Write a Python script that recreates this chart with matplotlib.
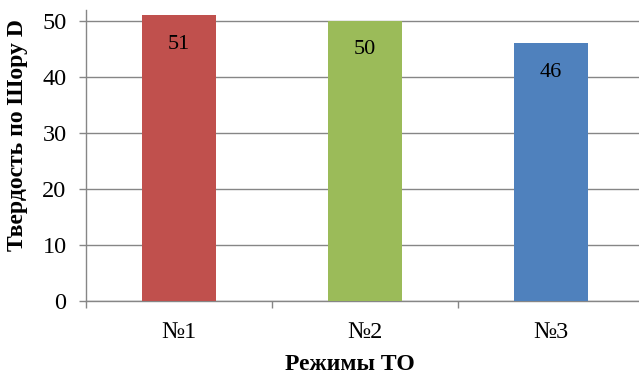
import matplotlib
matplotlib.use("Agg")
import matplotlib.pyplot as plt
from matplotlib.ticker import FixedLocator

categories = ["№1", "№2", "№3"]
hardness = [51, 50, 46]
bar_colors = ["#C0504D", "#9BBB59", "#4F81BD"]
y_ticks = [0, 10, 20, 30, 40, 50]

plt.rcParams["font.family"] = ["Liberation Serif", "DejaVu Serif"]

W, H = 639, 374
fig = plt.figure(figsize=(W / 100, H / 100), dpi=100)
# plot area in pixel coordinates (runs slightly past the right edge)
left, right, top, bottom = 86, 644, 9.8, 301
ax = fig.add_axes([left / W, 1 - bottom / H, (right - left) / W, (bottom - top) / H])

x = list(range(len(categories)))
bars = ax.bar(x, hardness, width=0.4, color=bar_colors, zorder=3)

for xi, v in zip(x, hardness):
    ax.annotate(str(v), (xi, v), xytext=(0, -14), textcoords="offset points",
                ha="center", va="top", fontsize=16, color="black", zorder=4)

ax.set_xlim(-0.5, 2.5)
ax.set_ylim(0, 52)
ax.set_yticks(y_ticks)
ax.set_yticklabels([str(t) for t in y_ticks], fontsize=17.5)
ax.yaxis.grid(True, color="#868686", linewidth=1.0, zorder=0)

ax.set_xticks(x)
ax.set_xticklabels(categories, fontsize=17.5)
ax.tick_params(axis="x", which="major", length=0, pad=15)
ax.xaxis.set_minor_locator(FixedLocator([-0.5, 0.5, 1.5, 2.5]))
ax.tick_params(axis="x", which="minor", length=5, color="#868686", width=1.0)
ax.tick_params(axis="y", length=5, color="#868686", width=1.0, pad=9)

for s in ["top", "right"]:
    ax.spines[s].set_visible(False)
for s in ["left", "bottom"]:
    ax.spines[s].set_color("#868686")
    ax.spines[s].set_linewidth(1.0)

fig.text(18 / W, 1 - 135 / H, "Твердость по Шору D", rotation=90, ha="center",
         va="center", fontsize=17, fontweight="bold")
fig.text(350 / W, 1 - 364 / H, "Режимы ТО", ha="center", va="center",
         fontsize=17, fontweight="bold")

fig.savefig("out.png", dpi=100)
